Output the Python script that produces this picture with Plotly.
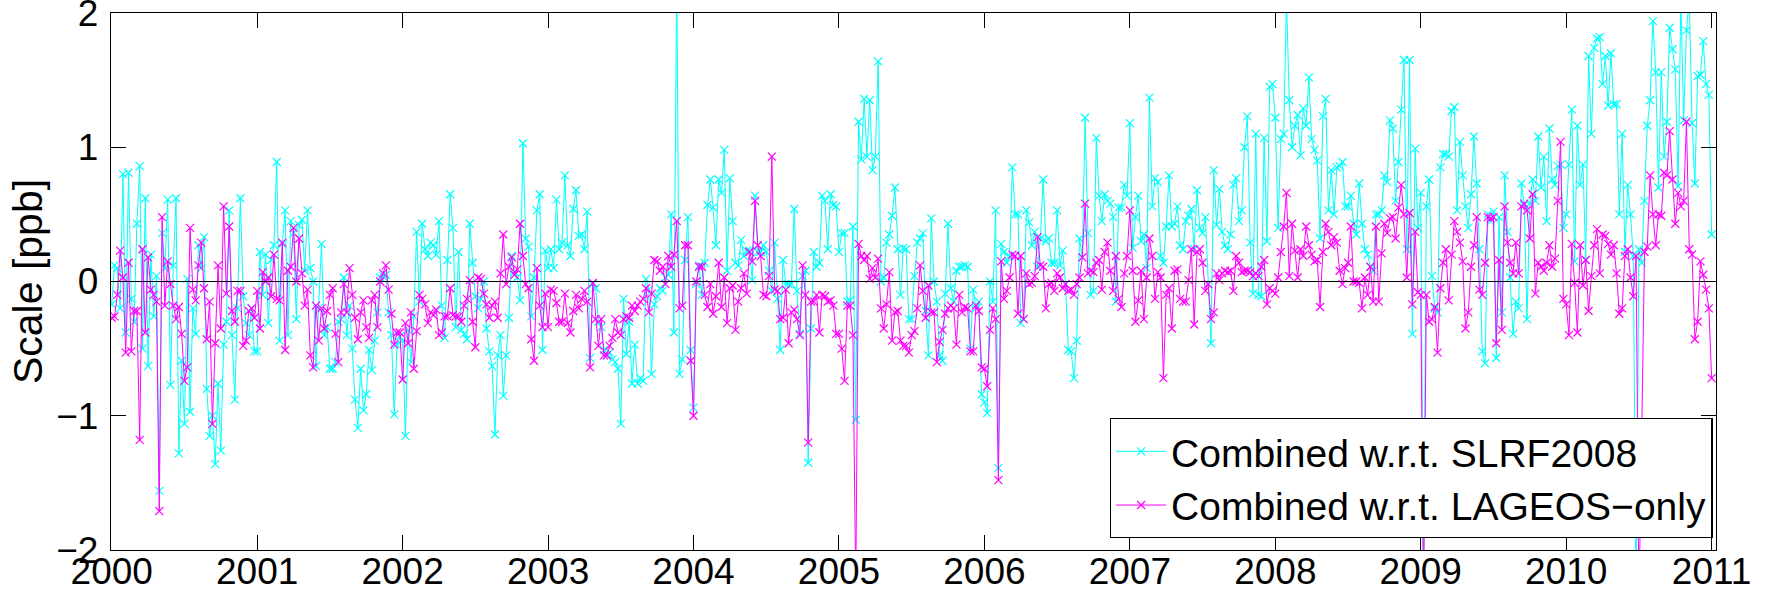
import numpy as np
import plotly.graph_objects as go

years = list(range(2000, 2011))
tick_years = list(range(2000, 2012))

# Combined w.r.t. SLRF2008 (weekly values, ppb), one list per year
slrf_2000 = [-0.17,0.12,0.1,-0.2,0.8,-0.38,0.81,-0.13,-0.3,0.43, 0.86,-0.5,0.62,-0.63,0.2,-0.26,0.04,-1.56,0.36,0.1,
             0.61,-0.77,0.12,0.62,-1.28,-0.59,-1.06,0.02,-0.97,-0.2, -0.39,0.27,0.1,0.33,-0.8,-1.15,-1.0,-1.36,-0.76,-1.26,
             -0.47,-0.3,0.53,-0.4,-0.88,-0.2,0.62,-0.11,-0.31,-0.4, -0.2,-0.52]
slrf_2001 = [-0.52,0.22,-0.1,0.2,-0.31,0.16,0.27,0.89,-0.44,0.28, 0.53,-0.4,0.45,0.36,-0.28,0.42,0.46,0.08,0.53,0.1,
             0.0,-0.63,-0.2,0.28,-0.4,-0.34,-0.65,-0.65,-0.6,-0.3, -0.28,0.03,-0.4,-0.18,-0.5,-0.88,-1.09,-0.65,-0.96,-0.84,
             -0.51,-0.66,-0.44,-0.23,0.03,0.04,0.05,-0.23,-0.4,-0.99, -0.47,-0.41]
slrf_2002 = [-0.44,-1.15,-0.36,-0.6,-0.26,0.37,-0.15,0.43,0.24,0.19, 0.29,0.27,0.2,0.45,-0.18,-0.42,0.16,0.65,0.4,-0.34,
             0.22,-0.36,-0.39,-0.43,0.43,0.14,-0.11,-0.2,-0.13,0.0, -0.35,-0.52,-0.63,-1.14,-0.55,-0.4,-0.85,-0.55,-0.27,0.19,
             0.07,0.03,-0.14,1.03,0.32,0.26,-0.26,0.03,0.53,0.65, -0.51,0.23]
slrf_2003 = [0.1,0.24,0.1,0.61,0.24,0.29,0.79,0.27,0.19,0.54, 0.68,0.34,0.35,0.24,0.52,-0.57,-0.02,-0.05,-0.3,-0.34,
             -0.51,-0.55,-0.53,-0.58,-0.6,-0.65,-1.06,-0.13,-0.54,-0.3, -0.76,-0.47,-0.76,-0.72,-0.74,0.02,-0.06,-0.69,-0.17,-0.11,
             -0.05,-0.07,0.03,0.05,0.5,-0.38,2.3,-0.69,-0.58,0.16, 0.48,-0.51]
slrf_2004 = [-0.94,-0.02,0.12,-0.1,0.14,0.57,0.76,0.55,0.27,0.76, 0.66,0.98,0.08,0.77,0.45,0.14,0.12,0.31,0.19,0.23,
             0.23,0.01,0.64,0.22,0.22,0.27,0.22,0.08,-0.07,0.29, -0.13,-0.51,0.16,-0.02,-0.02,-0.02,0.54,-0.07,-0.39,0.04,
             0.08,-1.35,-0.35,0.22,0.11,0.14,0.64,0.6,0.24,0.65, 0.57,0.56]
slrf_2005 = [0.22,0.36,0.36,-0.15,-0.14,0.41,-1.03,1.19,0.91,1.36, 0.93,1.35,0.83,0.93,1.64,0.0,0.03,0.29,0.35,0.49,
             0.7,0.24,-0.1,0.25,0.24,-0.28,-0.28,0.04,0.29,0.32, 0.36,-0.22,-0.55,0.47,0.0,-0.15,-0.55,-0.59,-0.09,0.43,
             -0.05,-0.15,0.08,0.11,0.11,0.12,0.11,-0.5,-0.06,-0.2, -0.15,-0.84]
slrf_2006 = [-0.9,-0.98,0.0,-0.15,0.53,-1.39,0.28,0.22,0.14,0.19, 0.85,0.5,0.5,-0.31,-0.28,0.53,0.44,0.27,0.37,0.11,
             0.32,0.76,0.3,0.32,0.14,0.14,0.53,0.12,0.23,-0.02, -0.51,-0.52,-0.72,-0.44,0.32,0.18,1.22,0.36,-0.1,-0.07,
             1.07,0.64,0.45,0.65,0.6,0.58,0.48,-0.15,0.55,0.55, 0.72,0.64]
slrf_2007 = [1.18,0.25,0.48,0.64,0.3,0.35,0.1,1.37,0.56,0.77, 0.74,0.19,0.14,0.41,0.79,0.41,0.43,0.56,0.27,0.24,
             0.45,0.49,0.54,0.24,0.68,0.4,0.36,0.48,-0.02,-0.46, 0.83,0.42,0.69,0.37,0.27,0.24,0.35,0.72,0.77,0.45,
             0.53,1.0,1.23,0.29,-0.09,1.1,-0.1,-0.11,1.07,0.3, 1.45,1.47]
slrf_2008 = [1.22,0.4,1.06,1.1,2.1,1.35,1.0,1.16,1.24,0.94, 1.29,1.16,1.52,1.06,0.98,0.9,0.32,1.23,1.36,0.53,
             0.83,0.5,0.85,0.86,0.89,0.56,0.56,0.64,0.43,0.35, 0.73,0.43,0.24,0.2,0.11,0.08,0.5,0.5,0.53,0.79,
             0.74,1.2,1.14,0.6,0.89,1.28,1.65,0.24,1.65,-0.39, 0.99,0.4]
slrf_2009 = [0.66,-2.3,0.56,0.76,0.04,-0.2,-0.23,0.85,0.95,0.95, 0.93,1.27,1.3,0.53,1.04,0.79,0.56,0.4,0.65,1.08,
             0.73,0.24,-0.52,-0.61,0.5,0.45,0.52,-0.57,0.48,-0.23, 0.79,0.37,0.03,-0.39,-0.15,-0.2,0.73,0.57,-0.28,0.58,
             0.76,0.6,1.08,0.7,0.93,0.45,1.14,0.76,0.72,0.86, 0.87,0.4]
slrf_2010 = [0.5,0.87,1.28,0.15,1.16,0.72,0.87,0.16,1.68,1.1, 1.74,1.81,1.82,1.47,1.68,1.31,1.7,1.32,1.32,0.5,
             1.1,0.22,0.72,0.5,0.19,-2.4,0.24,0.14,0.6,1.16, 1.35,1.94,1.56,0.7,1.56,0.93,1.19,1.89,1.73,1.58,
             0.71,2.1,1.2,1.87,2.1,1.18,0.73,1.53,1.54,1.79, 1.47,1.39,0.35]

# Combined w.r.t. LAGEOS-only
lag_2000 = [-0.27,-0.26,-0.1,0.23,0.03,-0.53,0.14,-0.52,-0.22,-0.22, -1.18,0.24,-0.38,0.18,-0.06,-0.1,-0.15,-1.71,0.48,-0.18,
            0.15,-0.02,-0.18,-0.28,-0.19,-0.39,-0.74,-0.64,0.4,-0.06, -0.14,0.12,0.29,-0.05,-0.43,-0.15,-1.06,-0.46,0.12,-0.35,
            0.56,-0.09,0.41,-0.22,-0.3,-0.07,-0.07,-0.48,-0.44,-0.22, -0.2,-0.27]
lag_2001 = [-0.07,-0.35,0.07,0.0,0.03,-0.11,0.2,-0.13,-0.14,0.29, -0.51,0.08,0.11,0.4,0.0,0.32,0.06,-0.18,-0.06,-0.55,
            -0.64,-0.18,-0.44,-0.2,-0.35,-0.22,-0.1,-0.05,-0.39,-0.6, -0.23,-0.02,-0.23,0.1,-0.1,-0.27,-0.43,-0.23,-0.14,-0.34,
            -0.42,-0.14,-0.1,-0.34,0.0,0.06,0.12,-0.06,-0.24,-0.47, -0.38,-0.38]
lag_2002 = [-0.73,-0.31,-0.46,-0.23,-0.65,-0.37,-0.1,-0.13,-0.17,-0.31, -0.23,-0.25,-0.21,-0.4,-0.38,-0.26,-0.26,-0.05,-0.25,-0.26,
            -0.26,-0.3,-0.18,-0.13,0.01,-0.3,-0.49,0.03,0.02,-0.09, -0.17,-0.27,-0.18,-0.15,-0.27,0.06,0.35,-0.02,0.11,0.18,
            0.05,0.09,0.43,0.19,-0.02,-0.05,-0.43,-0.59,0.1,-0.18, -0.34,-0.09]
lag_2003 = [-0.34,-0.06,-0.07,-0.16,-0.3,-0.3,-0.09,-0.31,-0.38,-0.22, -0.1,-0.2,-0.13,-0.07,-0.15,-0.64,-0.01,-0.28,-0.48,-0.28,
            -0.55,-0.55,-0.48,-0.42,-0.28,-0.38,-0.4,-0.28,-0.26,-0.27, -0.18,-0.22,-0.18,-0.15,-0.13,-0.05,-0.23,-0.09,0.16,0.15,
            0.08,0.11,-0.02,0.19,0.11,0.2,0.45,-0.2,-0.18,0.27, 0.27,-0.59]
lag_2004 = [-1.0,0.0,0.11,0.11,-0.1,-0.19,-0.02,-0.24,-0.11,0.14, -0.19,0.03,-0.31,-0.05,-0.03,-0.36,-0.15,-0.05,0.06,-0.09,
            0.22,0.15,0.6,0.27,0.19,-0.1,-0.11,0.04,0.93,-0.06, -0.07,-0.28,-0.27,-0.06,-0.46,-0.23,-0.21,-0.28,-0.4,0.12,
            -0.1,-1.2,-0.15,-0.15,-0.1,-0.38,-0.1,-0.11,-0.15,-0.14, -0.18,-0.39]
lag_2005 = [-0.39,-0.5,-0.74,-0.18,-0.18,-0.4,-2.3,0.28,0.19,0.16, 0.19,0.02,0.1,0.03,0.17,-0.2,-0.35,-0.17,0.07,-0.44,
            -0.23,-0.22,-0.44,-0.48,-0.48,-0.53,-0.4,-0.37,-0.2,0.12, -0.07,-0.27,-0.03,-0.23,-0.23,-0.6,-0.45,-0.36,-0.24,-0.2,
            -0.18,-0.2,-0.47,-0.1,-0.23,-0.19,-0.2,-0.52,-0.52,-0.18, -0.22,-0.64]
lag_2006 = [-0.65,-0.78,-0.36,-0.2,-0.28,-1.48,0.15,-0.13,-0.07,0.03, 0.2,0.19,-0.24,0.19,-0.28,0.06,-0.02,-0.01,0.04,0.33,
            0.12,0.11,-0.2,-0.02,-0.01,-0.07,0.06,0.03,-0.05,-0.02, -0.07,-0.06,-0.1,-0.02,0.03,0.18,0.58,0.06,0.08,0.07,
            0.14,0.16,-0.06,0.22,0.29,0.08,-0.07,0.19,-0.13,-0.19, 0.06,0.19]
lag_2007 = [0.53,0.08,-0.3,-0.14,0.08,-0.28,0.03,0.32,0.19,-0.13, 0.07,0.03,-0.72,-0.1,-0.05,-0.35,0.08,0.09,-0.13,-0.15,
            -0.15,0.01,0.24,-0.32,0.22,0.24,0.14,-0.07,-0.02,-0.28, -0.23,0.06,0.01,0.06,0.08,0.07,0.08,-0.07,0.19,0.14,
            0.07,0.08,0.08,0.07,0.04,0.06,0.04,0.11,0.16,-0.17, -0.05,-0.07]
lag_2008 = [-0.09,0.03,0.22,0.41,0.66,0.04,0.43,0.23,0.03,0.24, 0.19,0.41,0.27,0.2,0.15,0.16,-0.19,0.22,0.43,0.37,
            0.27,0.33,0.29,0.08,-0.02,0.1,0.14,0.41,0.0,0.0, -0.01,-0.2,0.03,-0.1,0.11,-0.15,0.41,-0.15,0.21,0.43,
            0.36,0.47,0.48,0.32,0.55,0.72,0.5,0.03,0.51,-0.17, 0.37,-0.08]
lag_2009 = [-0.1,-2.4,-0.1,-0.3,-0.28,-0.19,-0.53,-0.05,0.14,0.24, -0.14,0.2,0.45,0.37,0.29,0.15,-0.35,-0.23,0.11,0.27,
            0.48,-0.06,-0.1,0.14,0.48,0.47,0.48,-0.46,0.16,-0.36, 0.56,0.29,0.14,0.06,0.29,0.06,0.56,0.58,0.53,0.32,
            0.65,-0.09,0.14,0.11,0.08,0.14,0.27,0.11,0.17,0.6, 1.04,-0.13]
lag_2010 = [-0.17,-0.4,0.28,-0.01,-0.38,0.27,-0.03,0.16,-0.22,0.04, 0.27,0.39,0.06,0.35,0.34,0.28,0.2,0.27,0.06,-0.24,
            -0.2,0.19,0.24,0.03,-0.11,0.19,-2.4,-1.14,0.22,0.26, 0.79,0.5,0.27,0.5,0.49,0.81,0.79,1.12,0.76,0.43,
            0.66,0.56,0.6,1.19,0.24,0.2,-0.43,-0.3,0.15,0.05, -0.06,-0.2,-0.72]

slrf_by_year = [slrf_2000, slrf_2001, slrf_2002, slrf_2003, slrf_2004, slrf_2005,
                slrf_2006, slrf_2007, slrf_2008, slrf_2009, slrf_2010]
lag_by_year = [lag_2000, lag_2001, lag_2002, lag_2003, lag_2004, lag_2005,
               lag_2006, lag_2007, lag_2008, lag_2009, lag_2010]


def build(series):
    t, v = [], []
    for yr, vals in zip(years, series):
        t.extend(yr + np.arange(len(vals)) / 52.0)
        v.extend(vals)
    return np.array(t), np.array(v)


t1, y1 = build(slrf_by_year)
t2, y2 = build(lag_by_year)

FONT = "Liberation Sans, Arial, Helvetica, sans-serif"

fig = go.Figure()
fig.add_trace(go.Scatter(
    x=t1, y=y1, mode="lines+markers", name="Combined w.r.t. SLRF2008",
    line=dict(color="#00FFFF", width=1),
    marker=dict(symbol="x-thin", size=8, line=dict(color="#00FFFF", width=1.2), color="#00FFFF"),
))
fig.add_trace(go.Scatter(
    x=t2, y=y2, mode="lines+markers", name="Combined w.r.t. LAGEOS\u2212only",
    line=dict(color="#FF00FF", width=1),
    marker=dict(symbol="x-thin", size=8, line=dict(color="#FF00FF", width=1.2), color="#FF00FF"),
))

fig.add_shape(type="line", xref="paper", yref="y", x0=0, x1=1, y0=0, y1=0,
              line=dict(color="black", width=1), layer="above")

axis_common = dict(
    showline=True, linecolor="black", linewidth=1.3, mirror="allticks",
    ticks="inside", ticklen=15, tickwidth=1, tickcolor="black",
    showgrid=False, zeroline=False, automargin=False,
    tickfont=dict(family=FONT, size=37, color="black"),
    layer="above traces", ticklabeloverflow="allow",
)

fig.update_layout(
    width=1765, height=596,
    margin=dict(l=111, r=49, t=13, b=46, pad=0, autoexpand=False),
    paper_bgcolor="white", plot_bgcolor="white",
    font=dict(family=FONT, color="black"),
    xaxis=dict(range=[1999.995, 2011.03], tickvals=tick_years,
               ticktext=[str(y) for y in tick_years], ticklabelstandoff=-12, **axis_common),
    yaxis=dict(range=[-2, 2], tickvals=[-2, -1, 0, 1, 2], ticklabelstandoff=4,
               title=dict(text="Scale [ppb]", font=dict(family=FONT, size=41, color="black"), standoff=0),
               **axis_common),
    legend=dict(x=0.998, y=0.022, xanchor="right", yanchor="bottom",
                bgcolor="white", bordercolor="black", borderwidth=1.3,
                font=dict(family=FONT, size=39, color="black"),
                tracegroupgap=0, itemwidth=50),
    showlegend=True,
)

fig.write_html("out.html", config={"displayModeBar": False},
               post_script="document.body.style.margin='0px';document.body.style.overflow='hidden';")
